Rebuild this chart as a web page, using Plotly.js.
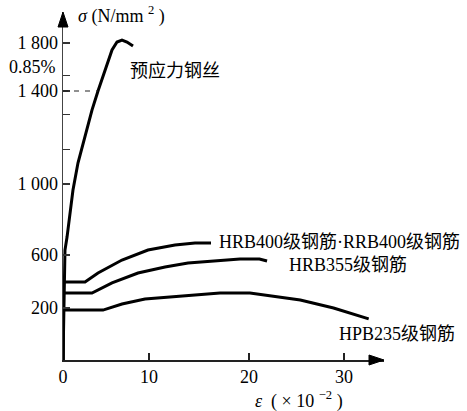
<!DOCTYPE html>
<html>
<head>
<meta charset="utf-8">
<script src="https://cdn.plot.ly/plotly-3.0.1.min.js"></script>
<style>html,body{margin:0;padding:0;background:#fff;}#chart{width:467px;height:411px;}</style>
</head>
<body>
<div id="chart"></div>
<script>
// ---- data (strain ×10^-2, stress N/mm^2) ----
const wireStrain = [0, 0.1, 0.23, 0.47, 0.81, 1.16, 1.74, 2.44, 3.37, 4.07, 4.88, 5.70, 6.28, 6.86, 7.44, 8.14];
const wireStress = [0, 260, 628, 701, 837, 966, 1090, 1189, 1318, 1400, 1575, 1742, 1808, 1825, 1808, 1775];

const hrb400Strain = [0, 0, 2.56, 4.07, 6.86, 9.88, 12.6, 14.6, 16.2];
const hrb400Stress = [0, 396, 396, 464, 562, 628, 656, 668, 668];

const hrb355Strain = [0, 0, 3.37, 5.70, 8.72, 11.6, 13.9, 16.6, 19.1, 21.1, 21.9];
const hrb355Stress = [0, 313, 313, 389, 464, 509, 540, 555, 570, 570, 555];

const hpb235Strain = [0, 0, 4.65, 6.86, 9.53, 12.3, 14.6, 17.1, 20.1, 22.2, 25.4, 28.9, 32.6];
const hpb235Stress = [0, 192, 192, 230, 268, 283, 298, 313, 313, 291, 260, 200, 158];

const xTickVals = [0, 10, 20, 30];
const xTickText = ["0", "10", "20", "30"];
const yTickVals = [200, 600, 1000, 1400, 1800];
const yTickText = ["200", "600", "1 000", "1 400", "1 800"];
const yMinorTickVals = [1150, 1300, 1530];

const labelWire = "预应力钢丝";
const labelHRB400 = "HRB400级钢筋·RRB400级钢筋";
const labelHRB355 = "HRB355级钢筋";
const labelHPB235 = "HPB235级钢筋";
const label085 = "0.85%";

// ---- the reference's (schematic, non-uniform) axis scales ----
const xScaleKnots = [0, 10, 20, 30], xScalePos = [0, 86, 186, 281];
const yScaleKnots = [0, 200, 600, 1000, 1400, 1800], yScalePos = [0, 52, 105, 176, 269, 317];
const xMax = 321, yMax = 348;

function scale(v, ks, ps) {
  let i = 0;
  while (i < ks.length - 2 && v > ks[i + 1]) i++;
  return ps[i] + (v - ks[i]) * (ps[i + 1] - ps[i]) / (ks[i + 1] - ks[i]);
}
const sx = v => scale(v, xScaleKnots, xScalePos);
const sy = v => scale(v, yScaleKnots, yScalePos);

const serif = "Liberation Serif, 'Noto Sans CJK SC', serif";
const lineStyle = {color: '#000', width: 3, shape: 'linear'};

function trace(xs, ys) {
  return {x: xs.map(sx), y: ys.map(sy), type: 'scatter', mode: 'lines', line: lineStyle, hoverinfo: 'skip', showlegend: false};
}

const data = [
  trace(wireStrain, wireStress),
  trace(hrb400Strain, hrb400Stress),
  trace(hrb355Strain, hrb355Stress),
  trace(hpb235Strain, hpb235Stress)
];

const i1400 = wireStress.indexOf(1400);

// arrowhead geometry (paper fractions of the plot area)
const headLen = 15, headHalf = 5;
const hx = headLen / xMax, hyHalf = headHalf / yMax, vy = headLen / yMax, vxHalf = headHalf / xMax;

const layout = {
  width: 467, height: 411,
  margin: {l: 63, r: 83, t: 12, b: 51, pad: 0},
  paper_bgcolor: '#fff', plot_bgcolor: '#fff',
  font: {family: serif, size: 18, color: '#000'},
  showlegend: false,
  xaxis: {
    range: [0, xMax], showgrid: false, zeroline: false, showline: true, linecolor: '#222', linewidth: 1.5,
    ticks: 'inside', ticklen: 7, tickwidth: 1.2, tickcolor: '#222',
    tickmode: 'array', tickvals: xTickVals.map(sx), ticktext: xTickText,
    tickfont: {family: serif, size: 18, color: '#000'}
  },
  yaxis: {
    range: [0, yMax], showgrid: false, zeroline: false, showline: true, linecolor: '#444', linewidth: 1.5,
    ticks: 'inside', ticklen: 7, tickwidth: 1.2, tickcolor: '#333',
    tickmode: 'array', tickvals: yTickVals.map(sy), ticktext: yTickText,
    tickfont: {family: serif, size: 18, color: '#000'},
    minor: {tickmode: 'array', tickvals: yMinorTickVals.map(sy), ticks: 'inside', ticklen: 7, tickwidth: 1.2, tickcolor: '#333', showgrid: false}
  },
  shapes: [
    {type: 'line', xref: 'x', yref: 'y', x0: 0, x1: sx(wireStrain[i1400]), y0: sy(1400), y1: sy(1400),
     line: {color: '#222', width: 1.2, dash: '5px,6px'}},
    {type: 'path', xref: 'paper', yref: 'paper', layer: 'above',
     path: `M 1 0 L ${1 - hx} ${hyHalf} L ${1 - hx} ${-hyHalf} Z`,
     fillcolor: '#000', line: {color: '#000', width: 1}},
    {type: 'path', xref: 'paper', yref: 'paper', layer: 'above',
     path: `M 0 1 L ${vxHalf} ${1 - vy} L ${-vxHalf} ${1 - vy} Z`,
     fillcolor: '#000', line: {color: '#000', width: 1}}
  ],
  annotations: [
    {xref: 'x', yref: 'y', x: 13, y: 345, xanchor: 'left', yanchor: 'middle', showarrow: false,
     text: '<i>σ</i> (N/mm <sup>2</sup> )', font: {family: serif, size: 18}},
    {xref: 'x', yref: 'y', x: 190, y: 0, yshift: -40, xanchor: 'left', yanchor: 'middle', showarrow: false,
     text: '<i>ε</i>  ( × 10 <sup>−2</sup> )', font: {family: serif, size: 18}},
    {xref: 'x', yref: 'y', x: 0, y: sy(1530), xshift: -5, yshift: 8, xanchor: 'right', yanchor: 'middle', showarrow: false,
     text: label085, font: {family: serif, size: 18}},
    {xref: 'x', yref: 'y', x: 65, y: 289, xanchor: 'left', yanchor: 'middle', showarrow: false,
     text: labelWire, font: {family: serif, size: 18}},
    {xref: 'x', yref: 'y', x: 154, y: 118, xanchor: 'left', yanchor: 'middle', showarrow: false,
     text: labelHRB400, font: {family: serif, size: 18}},
    {xref: 'x', yref: 'y', x: 224, y: 95, xanchor: 'left', yanchor: 'middle', showarrow: false,
     text: labelHRB355, font: {family: serif, size: 18}},
    {xref: 'x', yref: 'y', x: 274, y: 26, xanchor: 'left', yanchor: 'middle', showarrow: false,
     text: labelHPB235, font: {family: serif, size: 18}}
  ]
};

Plotly.newPlot('chart', data, layout, {displayModeBar: false, staticPlot: true});
</script>
</body>
</html>
